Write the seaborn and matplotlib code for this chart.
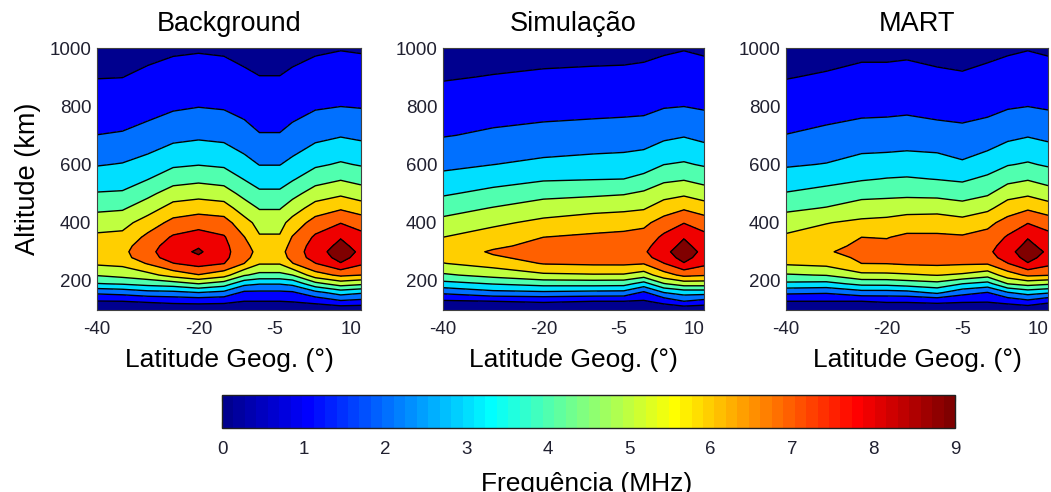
#!/usr/bin/env python3
"""Perfis de frequencia de plasma: background, simulacao e MART."""

import numpy as np
import matplotlib
matplotlib.use('Agg')
import matplotlib.pyplot as plt
import seaborn as sns
from matplotlib.cm import ScalarMappable
from matplotlib.colors import LinearSegmentedColormap, Normalize

alt_km = [100, 130, 160, 190, 220, 260, 280, 300, 320, 350, 400, 450, 500, 550, 600, 700, 800, 900, 1000]
levels = [0, 1, 2, 3, 4, 5, 6, 7, 8, 9]
lat_ticks = [-40, -20, -5, 10]
alt_ticks = [200, 400, 600, 800, 1000]
cbar_ticks = [0, 1, 2, 3, 4, 5, 6, 7, 8, 9]

# one row per latitude, values in MHz at alt_km
bg_lat = [-40, -35, -30, -25, -20, -15, -11, -8, -4, -1.5, 3, 8, 12]
bg_freq = [
    [0.40, 0.97, 2.20, 3.95, 5.07, 6.15, 6.50, 6.60, 6.50, 6.19, 5.56, 4.78, 4.06, 3.48, 2.94, 2.01, 1.48, 0.97, 0.60],
    [0.40, 1.00, 2.35, 4.08, 5.33, 6.25, 6.65, 6.75, 6.62, 6.27, 5.66, 4.88, 4.11, 3.56, 3.05, 2.08, 1.52, 0.99, 0.60],
    [0.35, 1.10, 2.67, 4.33, 5.68, 7.08, 7.60, 7.73, 7.60, 7.24, 6.46, 5.54, 4.75, 3.97, 3.38, 2.32, 1.67, 1.20, 0.70],
    [0.30, 1.24, 2.74, 4.53, 6.40, 7.97, 8.45, 8.58, 8.45, 8.13, 7.29, 6.40, 5.47, 4.59, 3.84, 2.69, 1.86, 1.37, 0.85],
    [0.30, 1.30, 3.00, 5.00, 6.95, 8.38, 8.85, 9.15, 8.90, 8.44, 7.59, 6.58, 5.65, 4.75, 3.96, 2.82, 1.97, 1.45, 0.90],
    [0.30, 1.24, 2.74, 4.50, 6.40, 8.03, 8.25, 8.30, 8.25, 8.09, 7.41, 6.44, 5.47, 4.59, 3.84, 2.72, 1.90, 1.38, 0.85],
    [0.35, 1.00, 1.79, 3.28, 5.10, 7.00, 7.30, 7.40, 7.30, 7.03, 6.37, 5.50, 4.69, 3.96, 3.35, 2.37, 1.69, 1.16, 0.70],
    [0.35, 1.00, 1.79, 3.05, 4.71, 6.08, 6.55, 6.70, 6.50, 6.09, 5.67, 4.93, 4.19, 3.56, 2.97, 2.05, 1.52, 1.02, 0.60],
    [0.35, 1.00, 1.79, 3.05, 4.71, 6.08, 6.55, 6.70, 6.50, 6.09, 5.67, 4.93, 4.19, 3.56, 2.97, 2.05, 1.52, 1.02, 0.60],
    [0.35, 1.05, 1.86, 3.25, 5.00, 6.96, 7.30, 7.40, 7.30, 7.06, 6.37, 5.50, 4.67, 3.90, 3.27, 2.28, 1.66, 1.16, 0.70],
    [0.25, 1.30, 2.71, 4.67, 6.57, 7.97, 8.45, 8.57, 8.45, 8.16, 7.41, 6.44, 5.47, 4.59, 3.84, 2.71, 1.89, 1.39, 0.85],
    [0.20, 1.86, 3.43, 5.47, 7.20, 8.95, 9.30, 9.50, 9.25, 8.94, 7.96, 6.87, 5.82, 4.92, 4.11, 2.93, 1.99, 1.47, 0.95],
    [0.20, 1.70, 3.14, 5.20, 7.00, 8.16, 8.65, 8.81, 8.65, 8.31, 7.59, 6.49, 5.50, 4.66, 3.92, 2.79, 1.94, 1.42, 0.90],
]

sim_lat = [-40, -30, -20, -10, -4, 0, 4, 8, 12]
sim_freq = [
    [0.40, 0.87, 2.19, 3.65, 4.85, 5.97, 6.24, 6.50, 6.30, 6.00, 5.30, 4.58, 3.88, 3.28, 2.77, 1.95, 1.43, 0.93, 0.50],
    [0.40, 1.00, 2.71, 4.04, 5.33, 6.41, 6.90, 7.10, 6.85, 6.47, 5.80, 5.05, 4.29, 3.61, 2.99, 2.14, 1.60, 1.04, 0.60],
    [0.35, 1.10, 2.82, 4.35, 5.81, 7.06, 7.23, 7.40, 7.24, 7.00, 6.24, 5.48, 4.70, 3.89, 3.22, 2.29, 1.66, 1.14, 0.65],
    [0.35, 1.00, 2.71, 4.39, 5.90, 7.16, 7.38, 7.60, 7.43, 7.17, 6.52, 5.70, 4.82, 3.96, 3.35, 2.38, 1.71, 1.18, 0.70],
    [0.35, 1.00, 2.67, 4.35, 5.89, 7.17, 7.44, 7.70, 7.52, 7.25, 6.63, 5.79, 4.93, 4.00, 3.40, 2.43, 1.74, 1.21, 0.70],
    [0.30, 0.90, 1.83, 3.58, 5.50, 7.06, 7.60, 7.85, 7.68, 7.37, 6.77, 5.91, 5.16, 4.28, 3.54, 2.48, 1.77, 1.26, 0.75],
    [0.25, 1.33, 3.00, 4.93, 6.58, 7.97, 8.55, 8.75, 8.55, 8.21, 7.41, 6.50, 5.63, 4.78, 3.99, 2.77, 1.94, 1.43, 0.85],
    [0.20, 2.00, 3.40, 5.47, 7.24, 8.95, 9.30, 9.50, 9.25, 8.94, 7.96, 6.87, 5.82, 4.92, 4.11, 2.93, 1.99, 1.47, 0.95],
    [0.20, 1.65, 3.40, 5.47, 7.09, 8.24, 8.60, 8.76, 8.60, 8.30, 7.52, 6.50, 5.50, 4.65, 3.90, 2.71, 1.89, 1.39, 0.85],
]

mart_lat = [-40, -32, -25, -20, -16, -10, -5, 0, 4, 8, 12]
mart_freq = [
    [0.40, 1.00, 2.20, 3.78, 4.89, 6.14, 6.32, 6.50, 6.36, 6.15, 5.56, 4.78, 4.06, 3.45, 2.89, 2.02, 1.49, 0.96, 0.55],
    [0.40, 1.00, 2.11, 3.68, 5.05, 6.30, 6.60, 6.90, 6.70, 6.44, 5.96, 5.05, 4.34, 3.68, 3.04, 2.21, 1.62, 1.10, 0.60],
    [0.40, 1.00, 2.59, 4.26, 5.76, 7.00, 7.18, 7.35, 7.21, 7.00, 6.20, 5.44, 4.69, 3.91, 3.36, 2.39, 1.73, 1.26, 0.75],
    [0.35, 1.10, 2.59, 4.29, 5.78, 7.03, 7.19, 7.35, 7.20, 6.96, 6.28, 5.52, 4.74, 4.04, 3.41, 2.42, 1.75, 1.26, 0.75],
    [0.35, 1.10, 2.67, 4.47, 5.87, 7.14, 7.37, 7.60, 7.43, 7.18, 6.50, 5.60, 4.78, 4.09, 3.46, 2.48, 1.79, 1.29, 0.80],
    [0.35, 1.20, 3.20, 4.70, 6.04, 7.20, 7.40, 7.60, 7.43, 7.17, 6.52, 5.65, 4.71, 3.97, 3.42, 2.37, 1.67, 1.16, 0.70],
    [0.35, 1.10, 2.35, 4.00, 5.84, 7.13, 7.37, 7.60, 7.40, 7.11, 6.37, 5.40, 4.57, 3.85, 3.14, 2.27, 1.63, 1.09, 0.65],
    [0.30, 1.08, 1.97, 3.63, 5.39, 7.10, 7.50, 7.75, 7.58, 7.32, 6.75, 5.77, 4.87, 4.20, 3.51, 2.43, 1.74, 1.24, 0.75],
    [0.25, 1.33, 2.94, 5.00, 6.52, 7.97, 8.50, 8.70, 8.50, 8.12, 7.35, 6.52, 5.61, 4.69, 3.94, 2.75, 1.91, 1.41, 0.85],
    [0.20, 1.75, 3.41, 5.38, 7.19, 8.95, 9.30, 9.50, 9.25, 8.94, 7.95, 6.85, 5.82, 4.92, 4.10, 2.93, 1.99, 1.47, 0.95],
    [0.25, 1.20, 3.13, 5.14, 7.06, 8.26, 8.65, 8.85, 8.65, 8.34, 7.55, 6.47, 5.47, 4.61, 3.88, 2.75, 1.89, 1.39, 0.85],
]

W, H = 1051, 492
TEXT_COLOR = '#202030'


def px_axes(fig, left, top, right, bottom):
    """Axes placed by pixel box of the picture (origin top left)."""
    return fig.add_axes([left / W, 1 - bottom / H, (right - left) / W, (bottom - top) / H])


def matlab_jet():
    """jet(64) as MATLAB builds it, matplotlib's jet has other break points."""
    anchors = [(0, (0, 0, 0.5625)), (7 / 63, (0, 0, 1)), (23 / 63, (0, 1, 1)),
               (39 / 63, (1, 1, 0)), (55 / 63, (1, 0, 0)), (1, (0.5, 0, 0))]
    return LinearSegmentedColormap.from_list('matlab_jet', anchors, N=64)


def plot_panel(ax, lat, freq, title, cmap):
    z = np.array(freq).T
    # MATLAB style contourf: each band takes the colour of its lower level
    band_colors = [cmap(lv / 9) for lv in levels]
    ax.contourf(lat, alt_km, z, levels=levels + [12], colors=band_colors)
    ax.contour(lat, alt_km, z, levels=levels[1:], colors='black', linewidths=1.0)
    ax.set_xlim(-40, 12)
    ax.set_ylim(100, 1000)
    ax.set_xticks(lat_ticks)
    ax.set_xticklabels([str(v) for v in lat_ticks])
    ax.set_yticks(alt_ticks)
    ax.tick_params(direction='in', top=True, right=True, length=2.5, width=0.7,
                   labelsize=13.5, colors=TEXT_COLOR, pad=4)
    ax.tick_params(axis='x', pad=8)
    ax.set_title(title, fontsize=19.5, color='black', pad=12)
    ax.set_xlabel('Latitude Geog. (°)', fontsize=19, color='black', labelpad=7)
    for s in ax.spines.values():
        s.set_linewidth(0.8)
        s.set_color('#404040')


def main():
    sns.set_theme(style='ticks')
    plt.rcParams['font.family'] = ['Liberation Sans', 'DejaVu Sans']

    cmap = matlab_jet()
    fig = plt.figure(figsize=(W / 100, H / 100), dpi=100)

    ax1 = px_axes(fig, 97, 48, 361, 310)
    ax2 = px_axes(fig, 443, 48, 704, 310)
    ax3 = px_axes(fig, 786, 48, 1048, 310)
    plot_panel(ax1, bg_lat, bg_freq, 'Background', cmap)
    plot_panel(ax2, sim_lat, sim_freq, 'Simulação', cmap)
    plot_panel(ax3, mart_lat, mart_freq, 'MART', cmap)
    ax1.set_ylabel('Altitude (km)', fontsize=19.5, color='black', labelpad=6)

    cax = px_axes(fig, 222, 395, 955, 428)
    sm = ScalarMappable(norm=Normalize(0, 9), cmap=cmap)
    cb = fig.colorbar(sm, cax=cax, orientation='horizontal', ticks=cbar_ticks)
    cb.ax.tick_params(direction='in', top=True, bottom=True, length=4, width=0.8,
                      labelsize=13.5, colors=TEXT_COLOR, pad=9)
    cb.outline.set_linewidth(1.0)
    cb.outline.set_edgecolor('#202020')
    # label runs off the bottom edge in the original
    fig.text(587 / W, 1 - 491 / H, 'Frequência (MHz)', fontsize=19, ha='center', va='baseline', color='black')

    fig.savefig('out.png', dpi=100)
    plt.close(fig)


if __name__ == "__main__":
    main()
